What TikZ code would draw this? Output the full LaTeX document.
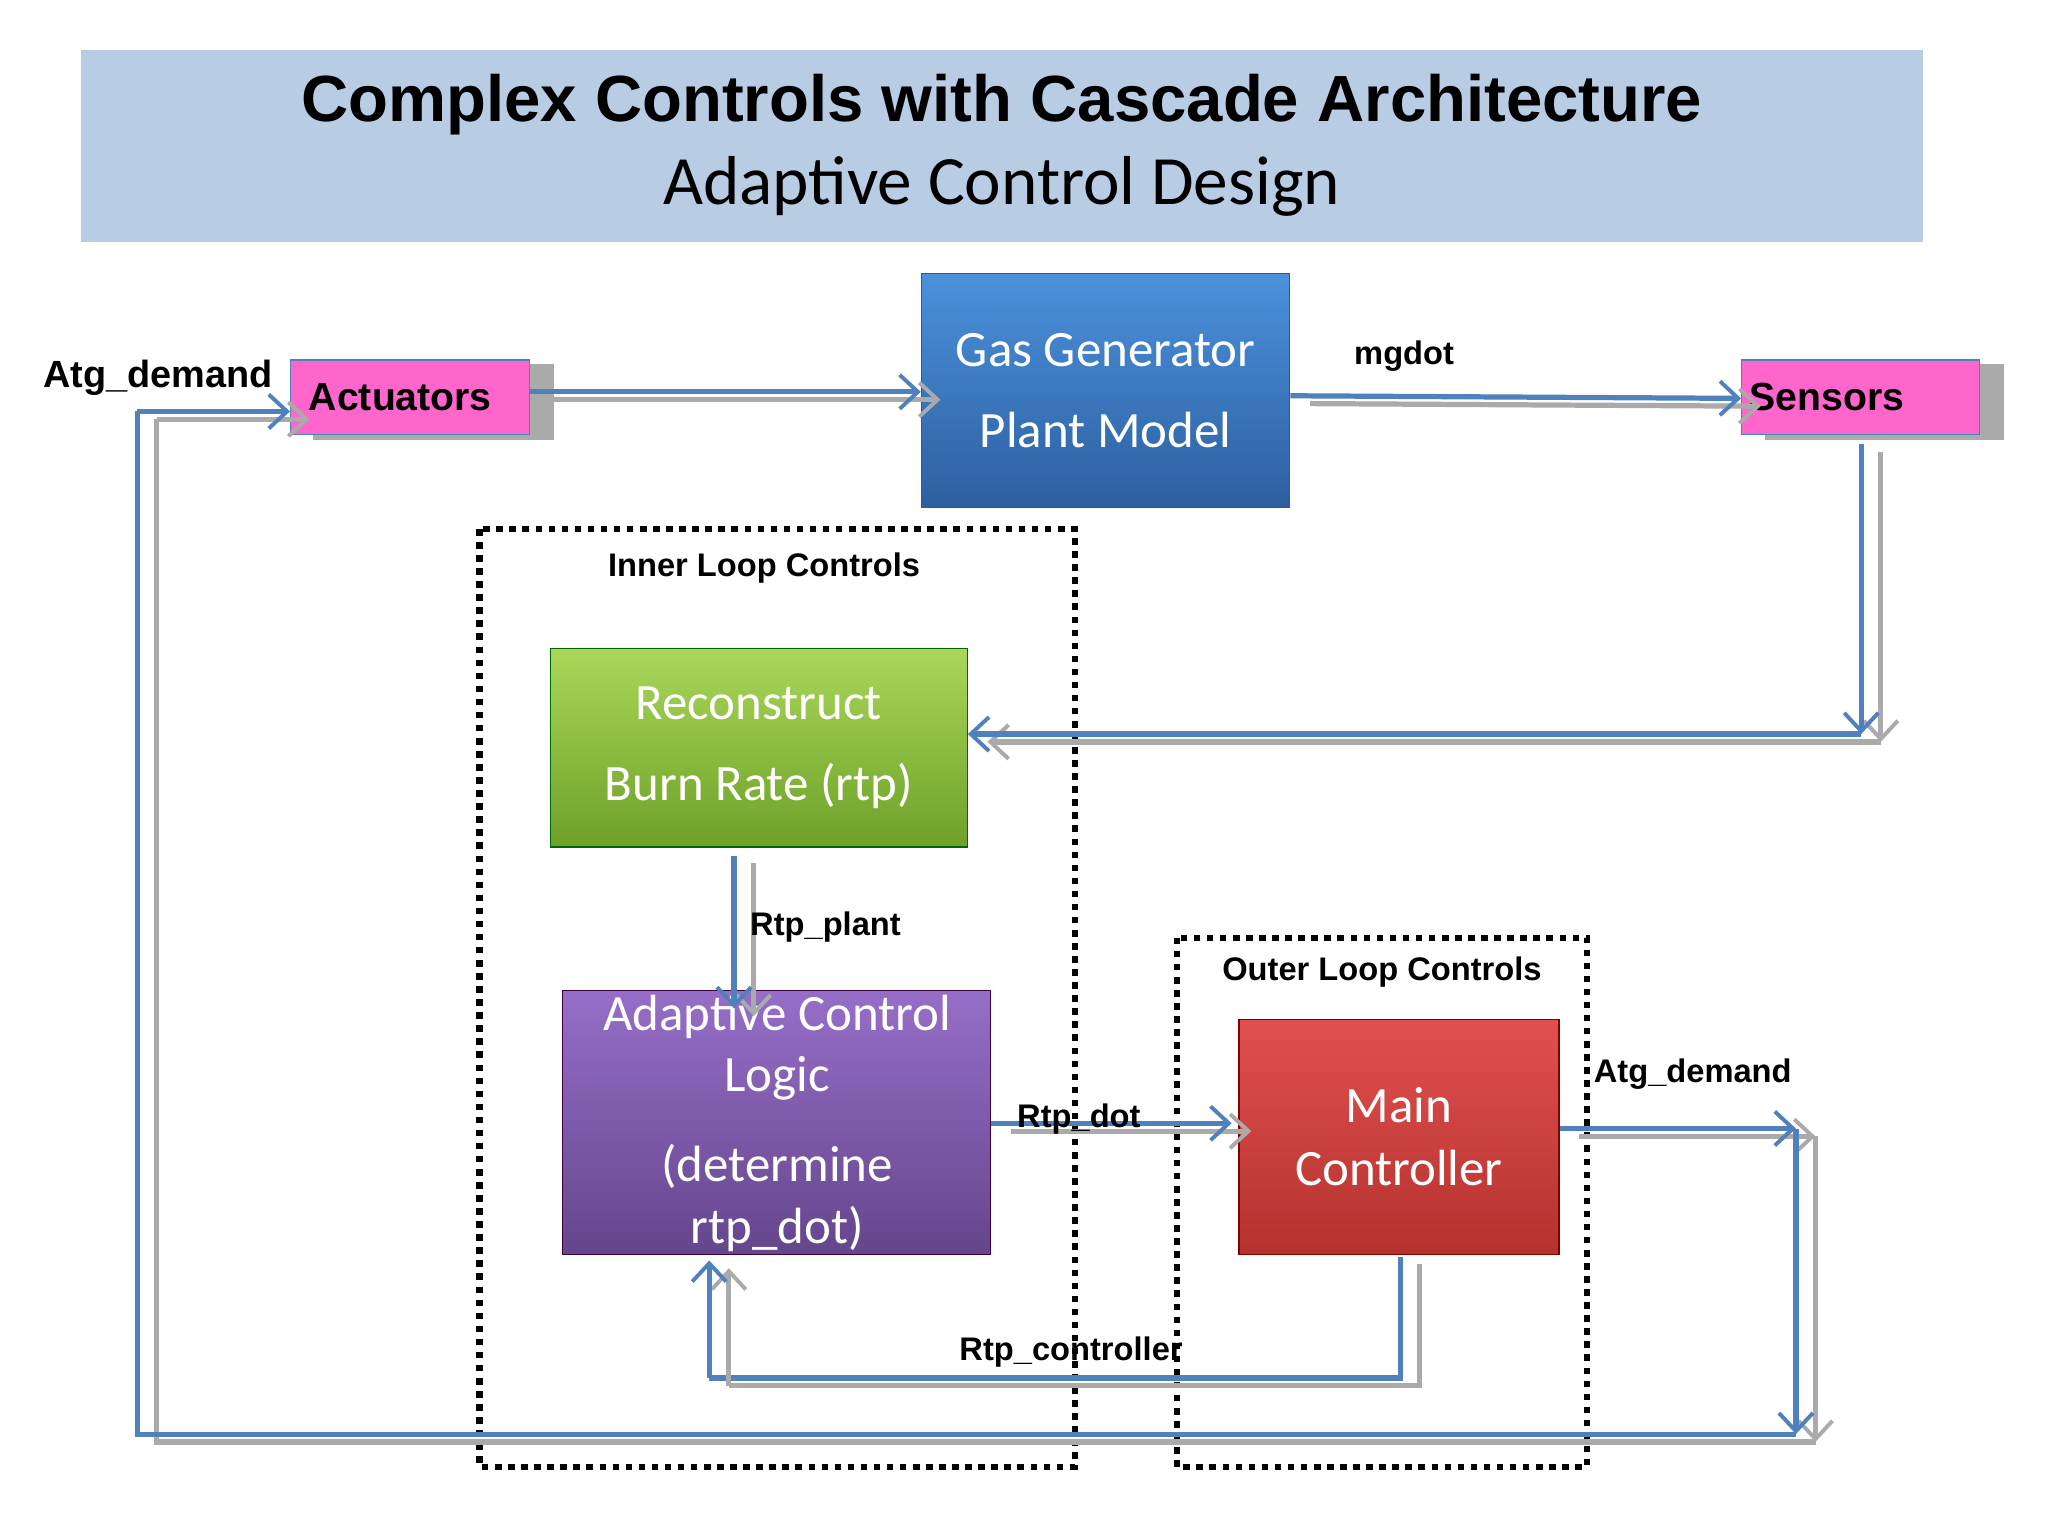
\documentclass[tikz,border=0pt]{standalone}
\usepackage{fontspec}
\setmainfont{Carlito}
\newfontfamily\lab{Liberation Sans}
\usetikzlibrary{arrows.meta}
\definecolor{band}{RGB}{184,204,228}
\definecolor{cblue}{RGB}{79,129,189}
\definecolor{shad}{RGB}{170,170,170}
\definecolor{pinkb}{RGB}{255,102,204}
\begin{document}
\begin{tikzpicture}[x=1pt,y=-1pt,
 box/.style={draw=#1,line width=1pt,inner sep=0pt,align=center,text=white,font=\fontsize{39}{48}\selectfont},
 pbox/.style={draw=cblue,fill=pinkb,line width=1pt,font=\lab\bfseries\fontsize{30}{34}\selectfont,inner xsep=14pt,
   preaction={draw=shad,fill=shad,transform canvas={shift={(18pt,-4pt)}}}},
 conn/.style={draw=cblue,line width=4pt,-{Straight Barb[length=14pt,width=26pt,line width=3pt]},
   preaction={draw=shad,line width=4pt,-{Straight Barb[length=14pt,width=26pt,line width=3pt]},transform canvas={shift={(15pt,-6pt)}}}},
 seg/.style={draw=cblue,line width=4pt,
   preaction={draw=shad,line width=4pt,transform canvas={shift={(15pt,-6pt)}}}},
 lbl/.style={font=\lab\bfseries\fontsize{25}{29}\selectfont},
 dot/.style={draw,line width=5pt,dash pattern=on 5pt off 5pt}]
\useasboundingbox (0,0) rectangle (1568,1176);
\fill[white] (0,0) rectangle (1568,1176);
\node[fill=band,minimum width=1410,minimum height=147,anchor=north west] (band) at (62,38) {};
\node (t1) at (767,80) {\lab\fontsize{50}{58}\selectfont\bfseries Complex Controls with Cascade Architecture};
\node (t2) at (767,143) {\fontsize{53}{58}\selectfont Adaptive Control Design};
% dotted regions
\draw[dot] (367,405) rectangle (823,1123);
\draw[dot] (901,718) rectangle (1215,1123);
\node[lbl] (il) at (585,435) {Inner Loop Controls};
\node[lbl] (ol) at (1058,744) {Outer Loop Controls};
% boxes
\node[pbox,minimum width=183,minimum height=57,anchor=north west,text width=155,align=left] (act) at (222,275) {Actuators};
\node[pbox,minimum width=182,minimum height=57,anchor=north west,text width=170,inner xsep=6pt,align=left] (sen) at (1333,275) {Sensors};
\node[box=cblue!70!black,top color={rgb,255:red,75;green,145;blue,220},bottom color={rgb,255:red,45;green,95;blue,160},minimum width=282,minimum height=179,anchor=north west] (gas) at (705,209) {Gas Generator\\[14pt]Plant Model};
\node[box=green!40!black,top color={rgb,255:red,170;green,215;blue,90},bottom color={rgb,255:red,110;green,160;blue,40},minimum width=319,minimum height=152,anchor=north west] (rec) at (421,496) {Reconstruct\\[14pt]Burn Rate (rtp)};
\node[box=violet!50!black,top color={rgb,255:red,150;green,110;blue,200},bottom color={rgb,255:red,100;green,70;blue,140},minimum width=328,minimum height=202,anchor=north west] (acl) at (430,758) {};
\node[text=white,align=center,font=\fontsize{39}{47}\selectfont] (aclt) at (595,860) {Adaptive Control\\Logic\\[22pt](determine\\rtp\_dot)};
\node[box=red!50!black,top color={rgb,255:red,225;green,80;blue,80},bottom color={rgb,255:red,180;green,50;blue,45},minimum width=245,minimum height=180,anchor=north west] (mc) at (948,780) {Main\\Controller};
% coordinates
\coordinate (s1) at (1425,562);
\coordinate (a1) at (1375,864);
\coordinate (a2) at (1375,1098);
\coordinate (a3) at (105,1098);
\coordinate (a4) at (105,315);
\coordinate (c1) at (1072,1055);
\coordinate (c2) at (543,1055);
% connectors
\draw[conn] (405,300) -- (gas.west|-0,300);
\draw[conn] (gas.east|-0,303) -- (sen.west|-0,305);
\node[lbl] (mg) at (1075,273) {mgdot};
\draw[conn] (1425,340) -- (s1);
\draw[conn] (s1) -- (rec.east|-s1);
\draw[conn] (562,655) -- (562,772);
\node[lbl] (rp) at (632,710) {Rtp\_plant};
\draw[conn] (acl.east|-0,860) -- (943,860);
\node[lbl] (rd) at (826,857) {Rtp\_dot};
\draw[seg] (1072,962) -- (c1) -- (c2);
\draw[conn] (c2) -- (543,965);
\node[lbl] (rc) at (820,1035) {Rtp\_controller};
\draw[conn] (mc.east|-a1) -- (a1);
\draw[conn] (a1) -- (a2);
\node[lbl] (ad) at (1296,822) {Atg\_demand};
\draw[seg] (a2) -- (a3) -- (a4);
\draw[conn] (a4) -- (act.west|-a4);
\node[lbl,font=\lab\bfseries\fontsize{29}{33}\selectfont] (ad2) at (121,289) {Atg\_demand};
\end{tikzpicture}
\end{document}
